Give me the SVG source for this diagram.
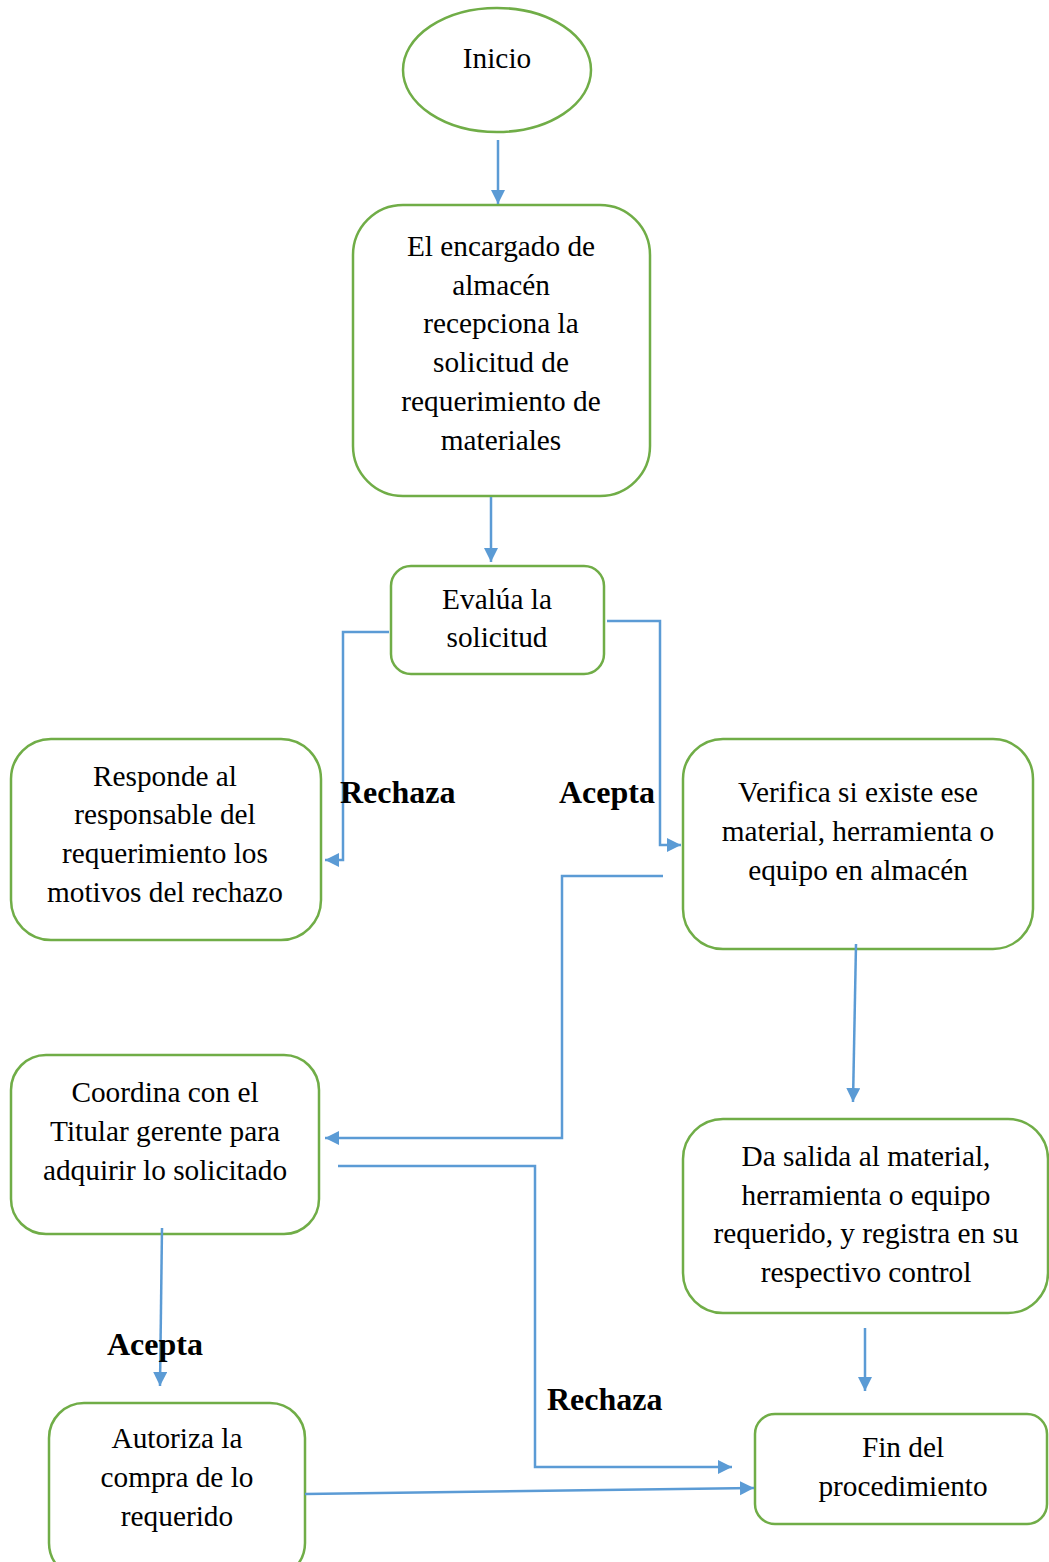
<svg xmlns="http://www.w3.org/2000/svg" width="1049" height="1562" viewBox="0 0 1049 1562">
<style>
.n{fill:#fff;stroke:#70ad47;stroke-width:2.5}
.t{font-family:"Liberation Serif",serif;font-size:29.3px;fill:#000;text-anchor:middle}
.b{font-family:"Liberation Serif",serif;font-size:32px;font-weight:bold;fill:#000}
.c{fill:none;stroke:#5b9bd5;stroke-width:2.5;marker-end:url(#ah)}
</style>
<defs>
<marker id="ah" markerUnits="userSpaceOnUse" markerWidth="16" markerHeight="16" refX="14" refY="7" orient="auto">
<path d="M0,0 L14,7 L0,14 Z" fill="#5b9bd5"/>
</marker>
</defs>
<rect width="1049" height="1562" fill="#fff"/>
<g id="inicio"><ellipse class="n" cx="497" cy="70" rx="94" ry="62"/><text class="t" x="497" y="68">Inicio</text></g>
<g id="recepciona"><rect class="n" x="353" y="205" width="297" height="291" rx="50"/>
<text class="t" x="501"><tspan x="501" y="256">El encargado de</tspan><tspan x="501" y="295">almacén</tspan><tspan x="501" y="333">recepciona la</tspan><tspan x="501" y="372">solicitud de</tspan><tspan x="501" y="411">requerimiento de</tspan><tspan x="501" y="450">materiales</tspan></text></g>
<g id="evalua"><rect class="n" x="391" y="566" width="213" height="108" rx="20"/>
<text class="t"><tspan x="497" y="609">Evalúa la</tspan><tspan x="497" y="647">solicitud</tspan></text></g>
<g id="responde"><rect class="n" x="11" y="739" width="310" height="201" rx="40"/>
<text class="t"><tspan x="165" y="786">Responde al</tspan><tspan x="165" y="824">responsable del</tspan><tspan x="165" y="863">requerimiento los</tspan><tspan x="165" y="902">motivos del rechazo</tspan></text></g>
<g id="verifica"><rect class="n" x="683" y="739" width="350" height="210" rx="40"/>
<text class="t"><tspan x="858" y="802">Verifica si existe ese</tspan><tspan x="858" y="841">material, herramienta o</tspan><tspan x="858" y="880">equipo en almacén</tspan></text></g>
<g id="coordina"><rect class="n" x="11" y="1055" width="308" height="179" rx="35"/>
<text class="t"><tspan x="165" y="1102">Coordina con el</tspan><tspan x="165" y="1141">Titular gerente para</tspan><tspan x="165" y="1180">adquirir lo solicitado</tspan></text></g>
<g id="salida"><rect class="n" x="683" y="1119" width="365" height="194" rx="40"/>
<text class="t"><tspan x="866" y="1166">Da salida al material,</tspan><tspan x="866" y="1205">herramienta o equipo</tspan><tspan x="866" y="1243">requerido, y registra en su</tspan><tspan x="866" y="1282">respectivo control</tspan></text></g>
<g id="autoriza"><rect class="n" x="49" y="1403" width="256" height="175" rx="35"/>
<text class="t"><tspan x="177" y="1448">Autoriza la</tspan><tspan x="177" y="1487">compra de lo</tspan><tspan x="177" y="1526">requerido</tspan></text></g>
<g id="fin"><rect class="n" x="755" y="1414" width="292" height="110" rx="20"/>
<text class="t"><tspan x="903" y="1457">Fin del</tspan><tspan x="903" y="1496">procedimiento</tspan></text></g>
<g id="connectors">
<path class="c" d="M498,140 L498,204"/>
<path class="c" d="M491,497 L491,562"/>
<path class="c" d="M389,632 L343,632 L343,860 L325,860"/>
<path class="c" d="M607,621 L660,621 L660,845 L681,845"/>
<path class="c" d="M663,876 L562,876 L562,1138 L325,1138"/>
<path class="c" d="M856,944 L853,1102"/>
<path class="c" d="M162,1228 L160,1386"/>
<path class="c" d="M338,1166 L535,1166 L535,1467 L732,1467"/>
<path class="c" d="M305,1494 L754,1488"/>
<path class="c" d="M865,1328 L865,1391"/>
</g>
<g id="labels">
<text class="b" x="340" y="803">Rechaza</text>
<text class="b" x="559" y="803">Acepta</text>
<text class="b" x="107" y="1355">Acepta</text>
<text class="b" x="547" y="1410">Rechaza</text>
</g>
</svg>
